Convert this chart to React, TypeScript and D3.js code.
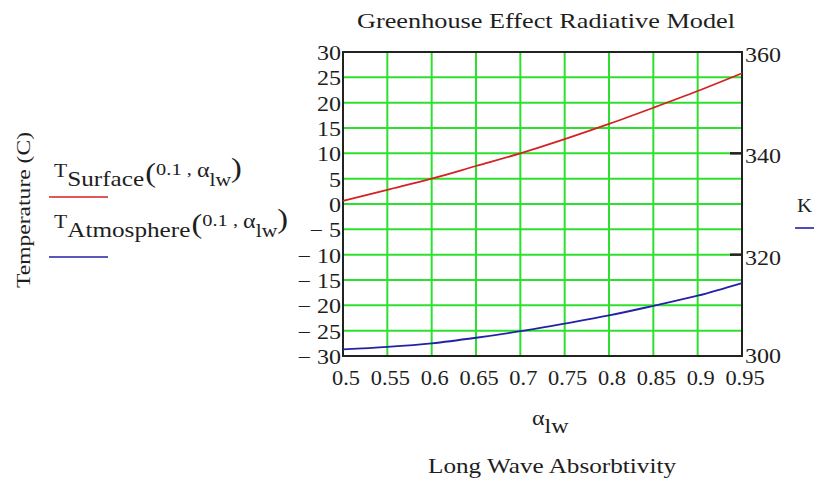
import React from "react";
import * as d3 from "d3";

const alphaLw = [0.5, 0.55, 0.6, 0.65, 0.7, 0.75, 0.8, 0.85, 0.9, 0.95];
const tSurface = [0.6, 2.8, 5.0, 7.5, 10.0, 12.8, 15.8, 19.0, 22.3, 25.8];
const tAtmosphere = [-28.7, -28.2, -27.5, -26.4, -25.1, -23.6, -22.0, -20.1, -18.1, -15.6];
const leftTicks = [30, 25, 20, 15, 10, 5, 0, -5, -10, -15, -20, -25, -30];
const rightTicks = [300, 320, 340, 360];
const xTicks = [0.5, 0.55, 0.6, 0.65, 0.7, 0.75, 0.8, 0.85, 0.9, 0.95];

const W = 814, H = 481;
const L = 343, R = 742, T = 52, B = 356;
const FONT = "'Liberation Serif', 'Times New Roman', serif";
const INK = "#1e1e1e";

function Txt(props: { x: number; y: number; size: number; sx?: number; anchor?: string; children: React.ReactNode }) {
  const { x, y, size, sx = 1.2, anchor = "start", children } = props;
  return (
    <text transform={`translate(${x},${y}) scale(${sx},1)`} fontSize={size} textAnchor={anchor} fill={INK}>
      {children}
    </text>
  );
}

function Legend(props: { x: number; y: number; name: string; color: string; lineY: number }) {
  const { x, y, name, color, lineY } = props;
  return (
    <g>
      <text transform={`translate(${x},${y}) scale(1.2,1)`} fontSize={20} fill={INK}>
        <tspan fontSize={18}>T</tspan>
        <tspan dy={9} fontSize={21}>{name}</tspan>
        <tspan dy={-4} fontSize={27} dx={1}>(</tspan>
        <tspan dy={-7} fontSize={17}>0.1 , </tspan>
        <tspan dy={2} fontSize={20}>α</tspan>
        <tspan dy={9} fontSize={18}>lw</tspan>
        <tspan dy={-9} fontSize={27}>)</tspan>
      </text>
      <line x1={49} x2={108} y1={lineY} y2={lineY} stroke={color} strokeWidth={1.6} />
    </g>
  );
}

export default function App() {
  const x = d3.scaleLinear().domain([0.5, 0.95]).range([L, R]);
  const y = d3.scaleLinear().domain([-30, 30]).range([B, T]);
  const yr = d3.scaleLinear().domain([300, 360]).range([B, T]);
  const mk = (vals: number[]) =>
    d3.line<number>().x((_, i) => x(alphaLw[i])).y((d) => y(d)).curve(d3.curveMonotoneX)(vals) as string;
  const fmt = (v: number) => (v < 0 ? "\u2212 " + Math.abs(v) : String(v));
  return (
    <svg width={W} height={H} style={{ position: "absolute", left: 0, top: 0, background: "#fff" }} fontFamily={FONT}>
      <rect x={0} y={0} width={W} height={H} fill="#fff" />
      <text x={546} y={28} textAnchor="middle" fontSize={22} fill={INK} textLength={378} lengthAdjust="spacingAndGlyphs">
        Greenhouse Effect Radiative Model
      </text>
      {xTicks.map((t) => (
        <line key={"gx" + t} x1={x(t)} x2={x(t)} y1={T} y2={B} stroke="#2ee02e" strokeWidth={2} />
      ))}
      {leftTicks.map((t) => (
        <line key={"gy" + t} x1={L} x2={R} y1={y(t)} y2={y(t)} stroke="#2ee02e" strokeWidth={2} />
      ))}
      {rightTicks.slice(1, 3).map((t) => (
        <line key={"rt" + t} x1={R - 12} x2={R} y1={yr(t)} y2={yr(t)} stroke="#222" strokeWidth={2.5} />
      ))}
      <rect x={L} y={T} width={R - L} height={B - T} fill="none" stroke="#222" strokeWidth={2} />
      <path d={mk(tSurface)} fill="none" stroke="#d42222" strokeWidth={1.8} />
      <path d={mk(tAtmosphere)} fill="none" stroke="#2222a6" strokeWidth={1.8} />
      {leftTicks.map((t) => (
        <Txt key={"ly" + t} x={341} y={y(t) + 8} size={20} anchor="end">{fmt(t)}</Txt>
      ))}
      {rightTicks.map((t) => (
        <Txt key={"ry" + t} x={745} y={yr(t) + (t === 300 ? 7 : 10)} size={20}>{t}</Txt>
      ))}
      {xTicks.map((t) => (
        <Txt key={"xt" + t} x={x(t) + 3} y={385} size={20} sx={1.12} anchor="middle">{String(t)}</Txt>
      ))}
      <text transform="translate(30,210) rotate(-90)" textAnchor="middle" fontSize={18} fill={INK} textLength={156} lengthAdjust="spacingAndGlyphs">
        Temperature (C)
      </text>
      <text transform="translate(532,425) scale(1.2,1)" fontSize={20} fill={INK}>
        α<tspan dy={8} fontSize={20}>lw</tspan>
      </text>
      <text x={552} y={473} textAnchor="middle" fontSize={21} fill={INK} textLength={248} lengthAdjust="spacingAndGlyphs">
        Long Wave Absorbtivity
      </text>
      <Legend x={54} y={177} name="Surface" color="#d42222" lineY={197} />
      <Legend x={54} y={228} name="Atmosphere" color="#2222a6" lineY={257} />
      <Txt x={797} y={212} size={19} sx={1.1}>K</Txt>
      <line x1={795} x2={814} y1={228} y2={228} stroke="#2222a6" strokeWidth={1.6} />
    </svg>
  );
}
